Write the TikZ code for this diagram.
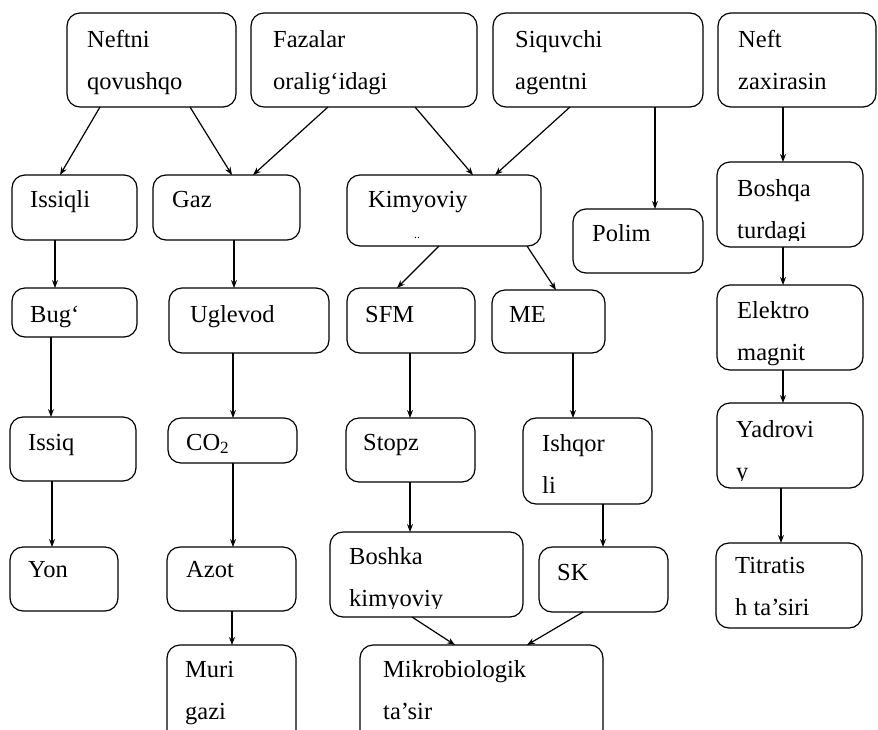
\documentclass[tikz,border=0pt]{standalone}
\usepackage{fontspec}
\setmainfont{Liberation Serif}
\usetikzlibrary{arrows.meta,calc}
\tikzset{
 box/.style={draw, line width=1.2pt, rounded corners=13pt, inner sep=0pt, outer sep=0pt, anchor=north west},
 txt/.style={inner sep=0pt, anchor=base west, font=\fontsize{24.5}{42}\selectfont},
 arr/.style={line width=1.2pt, -{Stealth[length=8pt,width=6pt]}}
}
\newcommand\bx[5]{\node[box, minimum width={(#4-#2)*1pt}, minimum height={(#5-#3)*1pt}] (#1) at (#2,#3) {};}
\newcommand\tx[4]{\node[txt] (#1) at (#2,#3) {#4};}
\newcommand\ttx[5]{\node[txt] (#1) at (#2,#3) {\parbox[t]{8cm}{#4\\#5}};}
\newcommand\arr[4]{\draw[arr] ($(#1.south west)+(#2,0)$) -- ($(#3.north west)+(#4,0)$);}
\begin{document}
\begin{tikzpicture}[x=1pt,y=-1pt]
\fill[white] (0,0) rectangle (878,729);
\useasboundingbox (0,0) rectangle (878,729);
% boxes
\bx{nq}{67}{13}{236}{107}
\bx{fo}{251}{13}{477}{107}
\bx{sa}{493}{13}{703}{107}
\bx{nz}{718}{13}{876}{107}
\bx{is}{12}{175}{137}{240}
\bx{gz}{153}{175}{300}{240}
\bx{km}{347}{175}{541}{246}
\bx{pl}{573}{209}{703}{273}
\bx{bt}{717}{162}{863}{247}
\bx{bg}{12}{288}{137}{337}
\bx{ug}{169}{288}{329}{353}
\bx{sf}{347}{288}{475}{353}
\bx{me}{492}{290}{605}{353}
\bx{em}{717}{285}{863}{370}
\bx{iq}{10}{417}{136}{481}
\bx{co}{168}{418}{297}{463}
\bx{st}{346}{418}{475}{482}
\bx{ih}{523}{418}{652}{504}
\bx{yd}{717}{403}{863}{488}
\bx{yn}{10}{547}{118}{611}
\bx{az}{167}{547}{296}{611}
\bx{bk}{330}{532}{523}{617}
\bx{sk}{539}{547}{668}{612}
\bx{tt}{716}{543}{862}{628}
\bx{mg}{167}{645}{296}{760}
\bx{mb}{360}{645}{603}{760}
% texts
\ttx{tnq}{87}{47}{Neftni}{qovushqo}
\ttx{tfo}{273}{47}{Fazalar}{oralig‘idagi}
\ttx{tsa}{515}{47}{Siquvchi}{agentni}
\ttx{tnz}{738}{47}{Neft}{zaxirasin}
\tx{tis}{30}{207}{Issiqli}
\tx{tgz}{172}{207}{Gaz}
\tx{tkm}{368}{207}{Kimyoviy}
\node[inner sep=0pt, anchor=base west, font=\fontsize{12}{12}\selectfont] (tkd) at (414,238) {..};
\tx{tpl}{592}{241}{Polim}
\begin{scope}
\clip (717,162) rectangle (863,240);
\ttx{tbt}{737}{196}{Boshqa}{turdagi}
\end{scope}
\tx{tbg}{30}{322}{Bug‘}
\tx{tug}{190}{322}{Uglevod}
\tx{tsf}{365}{322}{SFM}
\tx{tme}{509}{322}{ME}
\ttx{tem}{737}{318}{Elektro}{magnit}
\tx{tiq}{28}{450}{Issiq}
\tx{tco}{186}{450}{CO\textsubscript{2}}
\tx{tst}{363}{450}{Stopz}
\ttx{tih}{542}{451}{Ishqor}{li}
\begin{scope}
\clip (717,403) rectangle (863,480);
\ttx{tyd}{736}{437}{Yadrovi}{y}
\end{scope}
\tx{tyn}{28}{577}{Yon}
\tx{taz}{186}{577}{Azot}
\begin{scope}
\clip (330,532) rectangle (523,608);
\ttx{tbk}{349}{564}{Boshka}{kimyoviy}
\end{scope}
\tx{tsk}{557}{580}{SK}
\ttx{ttt}{735}{573}{Titratis}{h ta’siri}
\ttx{tmg}{185}{677}{Muri}{gazi}
\ttx{tmb}{383}{677}{Mikrobiologik}{ta’sir}
% arrows
\arr{nq}{33}{is}{48}
\arr{nq}{123}{gz}{79}
\arr{fo}{77}{gz}{100}
\arr{fo}{164}{km}{126}
\arr{sa}{77}{km}{148}
\arr{sa}{162}{pl}{82}
\arr{nz}{65}{bt}{66}
\arr{is}{43}{bg}{43}
\arr{gz}{81}{ug}{65}
\arr{km}{92}{sf}{50}
\arr{km}{180}{me}{64}
\arr{bt}{66}{em}{66}
\arr{bg}{39}{iq}{41}
\arr{ug}{64}{co}{65}
\arr{sf}{63}{st}{64}
\arr{me}{81}{ih}{50}
\arr{em}{66}{yd}{66}
\arr{iq}{42}{yn}{42}
\arr{co}{65}{az}{66}
\arr{st}{64}{bk}{80}
\arr{ih}{80}{sk}{64}
\arr{yd}{64}{tt}{65}
\arr{az}{65}{mg}{65}
\arr{bk}{82}{mb}{95}
\arr{sk}{44}{mb}{167}
\end{tikzpicture}
\end{document}
